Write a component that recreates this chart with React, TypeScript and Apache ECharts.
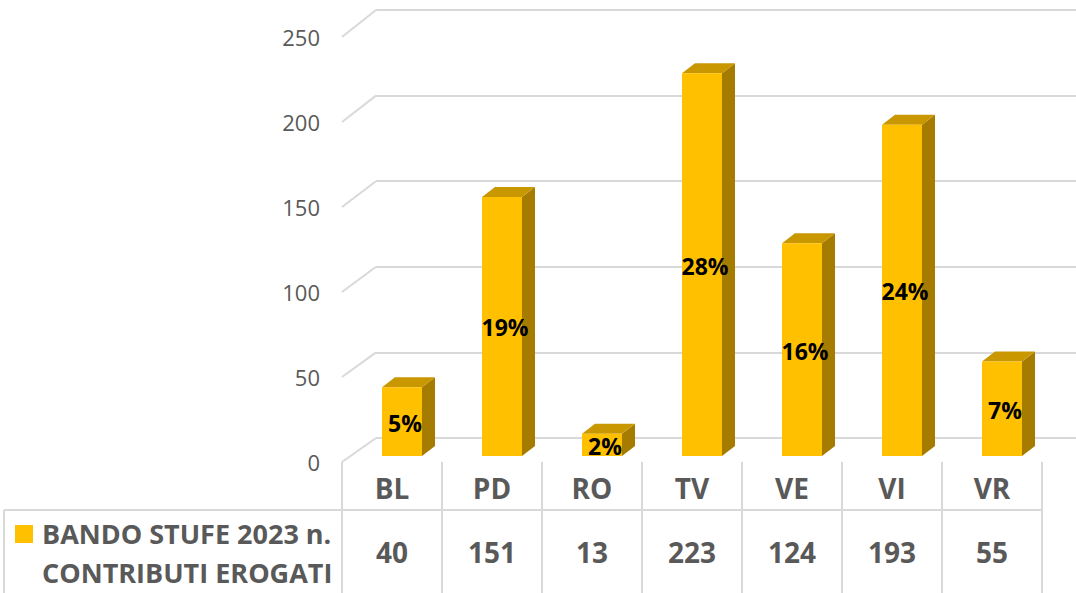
import React, { useEffect, useRef } from "react";
import * as echarts from "echarts";

const categories = ["BL", "PD", "RO", "TV", "VE", "VI", "VR"];
const values = [40, 151, 13, 223, 124, 193, 55];
const yTicks = [0, 50, 100, 150, 200, 250];
const seriesName = "BANDO STUFE 2023 n.\nCONTRIBUTI EROGATI";

const FONT = '"Open Sans", "Noto Sans", sans-serif';
const GRAY = "#595959";
const GRID_COLOR = "#d9d9d9";

export default function App() {
  const ref = useRef<HTMLDivElement>(null);
  useEffect(() => {
    document.body.style.margin = "0";
    const chart = echarts.init(ref.current!, undefined, { renderer: "svg" });
    const total = values.reduce((a, b) => a + b, 0);
    const pct = values.map((v) => Math.round((v / total) * 100) + "%");

    const option: any = {
      animation: false,
      textStyle: { fontFamily: FONT },
      grid: [
        { left: 352, top: 27, width: 700, height: 429 },
        { left: 376, top: 10, width: 700, height: 428 },
        { left: 342, top: 37, width: 700, height: 425 },
        { left: 342, top: 100, width: 700, height: 425 },
      ],
      xAxis: [
        { gridIndex: 0, type: "category", data: categories, show: false },
        { gridIndex: 1, type: "category", data: categories, show: false },
        {
          gridIndex: 2,
          type: "category",
          data: categories,
          axisLine: { show: false },
          axisTick: { show: true, length: 131, lineStyle: { color: GRID_COLOR, width: 2 } },
          axisLabel: { margin: 12, fontSize: 28, fontWeight: "bold", color: GRAY, fontFamily: FONT },
        },
        {
          gridIndex: 3,
          type: "category",
          data: categories,
          axisLine: { show: false },
          axisTick: { show: false },
          axisLabel: {
            margin: 13,
            fontSize: 28,
            fontWeight: "bold",
            color: GRAY,
            fontFamily: FONT,
            formatter: (_v: string, i: number) => String(values[i]),
          },
        },
      ],
      yAxis: [
        { gridIndex: 0, type: "value", min: 0, max: 250, interval: 50, show: false },
        {
          gridIndex: 1,
          type: "value",
          min: 0,
          max: 250,
          interval: 50,
          axisLine: { show: false },
          axisTick: { show: false },
          axisLabel: { show: false },
          splitLine: { show: true, lineStyle: { color: GRID_COLOR, width: 2 } },
        },
        {
          gridIndex: 2,
          type: "value",
          min: 0,
          max: 250,
          interval: 50,
          axisLine: { show: false },
          axisTick: { show: false },
          splitLine: { show: false },
          axisLabel: { margin: 22, fontSize: 22, color: GRAY, fontFamily: FONT },
        },
        { gridIndex: 3, type: "value", min: 0, max: 250, show: false },
      ],
      series: [
        {
          type: "custom",
          name: "grid-depth",
          xAxisIndex: 1,
          yAxisIndex: 1,
          silent: true,
          data: yTicks.map((v) => [0, v]),
          encode: { x: 0, y: 1 },
          renderItem: (params: any, api: any) => {
            const v = api.value(1);
            const p = api.coord([0, v]);
            const cs = params.coordSys;
            const dy = 24 + (3 * v) / 250;
            return {
              type: "line",
              shape: { x1: cs.x - 34, y1: p[1] + dy, x2: cs.x, y2: p[1] },
              style: { stroke: GRID_COLOR, lineWidth: 2 },
            };
          },
        },
        {
          type: "custom",
          name: seriesName,
          xAxisIndex: 0,
          yAxisIndex: 0,
          data: values.map((v, i) => [i, v]),
          encode: { x: 0, y: 1 },
          renderItem: (params: any, api: any) => {
            const idx = api.value(0);
            const v = api.value(1);
            const base = api.coord([idx, 0]);
            const top = api.coord([idx, v]);
            const w = api.size([1, 0])[0] * 0.4;
            const dx = 13;
            const dy = 10;
            const x0 = base[0] - w / 2;
            const x1 = base[0] + w / 2;
            const yt = top[1];
            const yb = base[1];
            return {
              type: "group",
              children: [
                {
                  type: "polygon",
                  shape: { points: [[x1, yt], [x1 + dx, yt - dy], [x1 + dx, yb - dy], [x1, yb]] },
                  style: { fill: "#A67C00" },
                },
                {
                  type: "polygon",
                  shape: { points: [[x0, yt], [x0 + dx, yt - dy], [x1 + dx, yt - dy], [x1, yt]] },
                  style: { fill: "#C99700" },
                },
                {
                  type: "rect",
                  shape: { x: x0, y: yt, width: w, height: yb - yt },
                  style: { fill: "#FFC000" },
                },
                {
                  type: "text",
                  style: {
                    text: pct[params.dataIndex],
                    x: base[0] + 3,
                    y: (yt + yb) / 2 + 1,
                    align: "center",
                    verticalAlign: "middle",
                    fill: "#000000",
                    fontSize: 23,
                    fontWeight: "bold",
                    fontFamily: FONT,
                  },
                },
              ],
            };
          },
        },
      ],
      graphic: [
        {
          type: "line",
          shape: { x1: 4, y1: 510, x2: 1042, y2: 510 },
          style: { stroke: GRID_COLOR, lineWidth: 2 },
          silent: true,
        },
        {
          type: "line",
          shape: { x1: 4, y1: 510, x2: 4, y2: 593 },
          style: { stroke: GRID_COLOR, lineWidth: 2 },
          silent: true,
        },
        {
          type: "rect",
          shape: { x: 15, y: 525, width: 18, height: 18 },
          style: { fill: "#FFC000" },
        },
        {
          type: "text",
          x: 42,
          y: 514,
          style: {
            text: seriesName,
            fill: GRAY,
            fontSize: 27,
            fontWeight: "bold",
            fontFamily: FONT,
            lineHeight: 39,
            align: "left",
            verticalAlign: "top",
          },
        },
      ],
    };
    chart.setOption(option);
    return () => chart.dispose();
  }, []);
  return <div ref={ref} style={{ width: 1076, height: 593 }} />;
}
